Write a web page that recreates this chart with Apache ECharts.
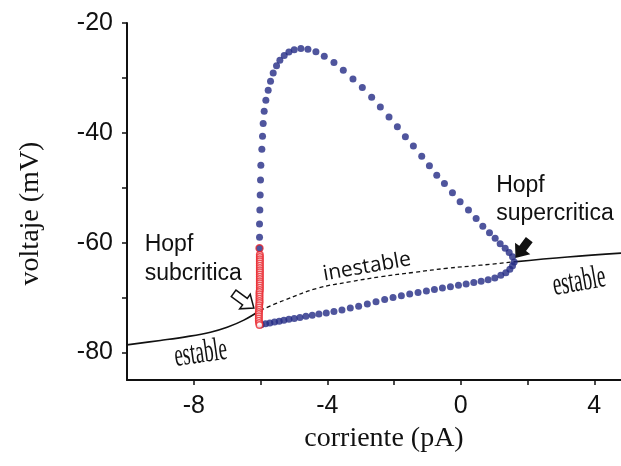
<!DOCTYPE html>
<html>
<head>
<meta charset="utf-8">
<script src="https://cdn.jsdelivr.net/npm/echarts@6/dist/echarts.min.js"></script>
<style>
  html, body { margin: 0; padding: 0; background: #fff; }
  #chart { width: 621px; height: 466px; }
</style>
</head>
<body>
<div id="chart"></div>
<script>
// Axis ticks and labels
const xTicks = [-8, -6, -4, -2, 0, 2, 4];
const xLabels = [-8, -4, 0, 4];
const yTicks = [-80, -70, -60, -50, -40, -30, -20];
const yLabels = [-80, -60, -40, -20];

// Stable rest state below the subcritical Hopf point
const stableLeftI = [-10, -9, -8.2, -7.5, -7.0, -6.5, -6.0];
const stableLeftV = [-78.6, -77.8, -77.1, -76.3, -75.4, -74.1, -72.3];

// Unstable rest state between the two Hopf points
const unstableI = [-6.0, -5.3, -4.3, -3.3, -2.4, -1.4, -0.4, 0.6, 1.58];
const unstableV = [-72.3, -70.5, -68.3, -67.1, -66.2, -65.4, -64.65, -64.1, -63.5];

// Stable rest state beyond the supercritical Hopf point
const stableRightI = [1.58, 3.2, 4.8];
const stableRightV = [-63.5, -62.6, -61.9];

// Limit cycle: voltage maximum
const maxI = [1.60, 1.55, 1.45, 1.33, 1.18, 1.03, 0.86, 0.66, 0.46, 0.23, -0.02, -0.25, -0.49, -0.72,
  -0.94, -1.17, -1.42, -1.66, -1.90, -2.15, -2.41, -2.67, -2.95, -3.23, -3.52, -3.80, -4.09, -4.34,
  -4.58, -4.79, -4.99, -5.15, -5.29, -5.42, -5.52, -5.62, -5.70, -5.77, -5.84, -5.89, -5.92, -5.94,
  -5.96, -5.99, -6.00, -6.01, -6.02, -6.03, -6.03];
const maxV = [-63.5, -62.55, -61.8, -61.0, -60.2, -59.2, -58.2, -57.0, -55.6, -54.05, -52.55, -50.9,
  -49.2, -47.7, -46.0, -44.25, -42.4, -40.7, -38.9, -37.1, -35.3, -33.5, -31.75, -30.2, -28.6, -27.2,
  -26.05, -25.25, -24.8, -24.65, -24.85, -25.3, -25.9, -26.8, -27.8, -29.1, -30.6, -32.25, -34.05,
  -36.05, -38.3, -40.6, -43.0, -45.9, -48.6, -51.3, -54.05, -56.6, -59.0];

// Limit cycle: voltage minimum
const minI = [-5.98, -5.85, -5.72, -5.58, -5.44, -5.30, -5.15, -4.99, -4.82, -4.64, -4.45, -4.25,
  -4.03, -3.80, -3.56, -3.31, -3.06, -2.80, -2.54, -2.28, -2.03, -1.78, -1.53, -1.28, -1.03, -0.79,
  -0.55, -0.31, -0.07, 0.16, 0.39, 0.61, 0.82, 1.02, 1.20, 1.35, 1.47, 1.55];
const minV = [-74.95, -74.75, -74.6, -74.45, -74.3, -74.1, -73.95, -73.8, -73.6, -73.4, -73.2, -73.0,
  -72.8, -72.55, -72.25, -71.9, -71.55, -71.15, -70.75, -70.35, -70.0, -69.65, -69.35, -69.05, -68.8,
  -68.5, -68.25, -68.0, -67.75, -67.5, -67.25, -67.0, -66.75, -66.45, -65.95, -65.45, -64.85, -64.2];

// Unstable limit cycle near the subcritical Hopf point
const redI = [-6.02, -6.02, -6.02, -6.02, -6.02, -6.02, -6.02, -6.02, -6.02, -6.02, -6.02, -6.02,
  -6.02, -6.02, -6.02, -6.02, -6.02, -6.03, -6.03, -6.03, -6.03, -6.03, -6.03, -6.04, -6.04, -6.04,
  -6.05, -6.05, -6.05, -6.05, -6.05, -6.04, -6.03];
const redV = [-62.2, -62.6, -63.0, -63.4, -63.8, -64.2, -64.6, -65.0, -65.4, -65.8, -66.2, -66.6,
  -67.0, -67.4, -67.8, -68.2, -68.6, -69.0, -69.4, -69.8, -70.2, -70.6, -71.0, -71.4, -71.8, -72.2,
  -72.6, -73.0, -73.4, -73.8, -74.2, -74.6, -75.0];
const junctionI = [-6.03];
const junctionV = [-61.0];

const zip = (a, b) => a.map((v, i) => [v, b[i]]);

const NAVY = '#232b85';
const RED = '#e8262d';
const SANS = '"Liberation Sans", Arial, sans-serif';
const SERIF = '"Liberation Serif", "Times New Roman", serif';

const chart = echarts.init(document.getElementById('chart'), null, { renderer: 'canvas' });

const option = {
  animation: false,
  backgroundColor: '#ffffff',
  grid: { left: 127, right: 0, top: 23, bottom: 86, containLabel: false },
  xAxis: {
    type: 'value', min: -10, max: 4.8,
    name: 'corriente (pA)', nameLocation: 'middle', nameGap: 45,
    nameTextStyle: { fontFamily: SERIF, fontSize: 28, color: '#111', padding: [0, 0, 0, 20] },
    axisLine: { show: true, onZero: false, lineStyle: { color: '#111', width: 2 } },
    axisTick: { show: true, inside: false, length: 5, customValues: xTicks, lineStyle: { color: '#111', width: 1.5 } },
    axisLabel: { customValues: xLabels, margin: 14, fontFamily: SANS, fontSize: 25, color: '#111' },
    splitLine: { show: false }
  },
  yAxis: {
    type: 'value', min: -85, max: -20,
    name: 'voltaje (mV)', nameLocation: 'middle', nameGap: 82, nameRotate: 90,
    nameTextStyle: { fontFamily: SERIF, fontSize: 28, color: '#111', padding: [0, 24, 0, 0] },
    axisLine: { show: true, onZero: false, lineStyle: { color: '#111', width: 2 } },
    axisTick: { show: true, inside: false, length: 5, customValues: yTicks, lineStyle: { color: '#111', width: 1.5 } },
    axisLabel: { customValues: yLabels, margin: 14, fontFamily: SANS, fontSize: 25, color: '#111' },
    splitLine: { show: false }
  },
  series: [
    {
      type: 'line', data: zip(stableLeftI, stableLeftV), smooth: 0.4, symbol: 'none', z: 2,
      lineStyle: { color: '#111', width: 1.6 }
    },
    {
      type: 'line', data: zip(unstableI, unstableV), smooth: 0.4, symbol: 'none', z: 2,
      lineStyle: { color: '#111', width: 1.3, type: [4, 3] }
    },
    {
      type: 'line', data: zip(stableRightI, stableRightV), smooth: 0.4, symbol: 'none', z: 2,
      lineStyle: { color: '#111', width: 1.6 }
    },
    {
      type: 'scatter', data: zip(maxI, maxV), symbol: 'circle', symbolSize: 7, z: 3,
      itemStyle: { color: NAVY }
    },
    {
      type: 'scatter', data: zip(minI, minV), symbol: 'circle', symbolSize: 7, z: 3,
      itemStyle: { color: NAVY }
    },
    {
      type: 'scatter', data: zip(redI, redV), symbol: 'circle', symbolSize: 6.5, z: 4,
      itemStyle: { color: '#ffffff', borderColor: RED, borderWidth: 1.5 }
    },
    {
      type: 'scatter', data: zip(junctionI, junctionV), symbol: 'circle', symbolSize: 7, z: 4,
      itemStyle: { color: NAVY, borderColor: RED, borderWidth: 1.4 }
    }
  ]
};

chart.setOption(option);

// Annotations placed in data space
const px = p => chart.convertToPixel({ xAxisIndex: 0, yAxisIndex: 0 }, p);
const deg = d => d * Math.PI / 180;

function label(at, text, font, opts) {
  const p = px(at);
  const o = opts || {};
  return {
    type: 'text', x: p[0], y: p[1], z: 10,
    rotation: o.rotation || 0, scaleX: o.scaleX || 1, scaleY: o.scaleY || 1,
    style: {
      text: text, font: font, fill: '#111',
      align: o.align || 'left', verticalAlign: 'middle'
    }
  };
}

function arrow(tip, angle, filled) {
  const p = px(tip);
  const shape = filled
    ? [[0, 0], [-10, -8], [-10, -3.5], [-21, -3.5], [-21, 3.5], [-10, 3.5], [-10, 8]]
    : [[0, 0], [-11, -9], [-11, -4], [-25, -4], [-25, 4], [-11, 4], [-11, 9]];
  return {
    type: 'polygon', x: p[0], y: p[1], rotation: -deg(angle), z: 10,
    shape: { points: shape },
    style: { fill: filled ? '#111' : '#ffffff', stroke: '#111', lineWidth: 1.5 }
  };
}

chart.setOption({
  graphic: [
    label([-9.47, -60.3], 'Hopf', '23px ' + SANS),
    label([-9.47, -65.7], 'subcritica', '23px ' + SANS),
    label([1.06, -49.6], 'Hopf', '23px ' + SANS),
    label([1.06, -54.8], 'supercritica', '23px ' + SANS),
    label([-2.81, -64.4], 'inestable', '21px "Open Sans", sans-serif', { align: 'center', rotation: deg(10) }),
    label([-7.79, -80.2], 'estable', '33px ' + SERIF, { align: 'center', rotation: deg(8), scaleX: 0.58 }),
    label([3.55, -67.15], 'estable', '33px ' + SERIF, { align: 'center', rotation: deg(10), scaleX: 0.58 }),
    arrow([-6.2, -71.9], 36, false),
    arrow([1.66, -62.6], 127, true)
  ]
});
</script>
</body>
</html>
